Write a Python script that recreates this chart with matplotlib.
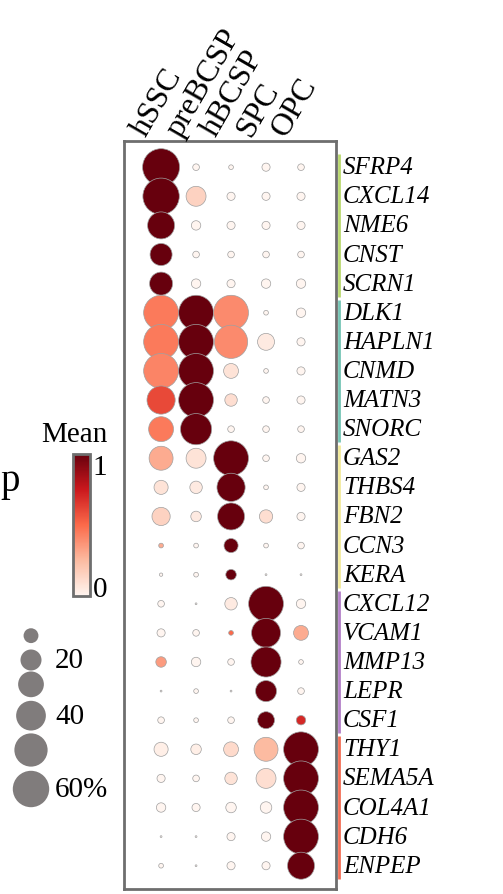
import matplotlib.pyplot as plt
import numpy as np
from matplotlib.colors import LinearSegmentedColormap

cell_types = ["hSSC", "preBCSP", "hBCSP", "SPC", "OPC"]
genes = ["SFRP4", "CXCL14", "NME6", "CNST", "SCRN1",
         "DLK1", "HAPLN1", "CNMD", "MATN3", "SNORC",
         "GAS2", "THBS4", "FBN2", "CCN3", "KERA",
         "CXCL12", "VCAM1", "MMP13", "LEPR", "CSF1",
         "THY1", "SEMA5A", "COL4A1", "CDH6", "ENPEP"]

# percent expressing (rows = genes, cols = cell types)
pct = np.array([
    [62, 2, 1, 3, 2],
    [60, 18, 3, 3, 3],
    [33, 4, 3, 3, 3],
    [22, 2, 2, 2, 2],
    [24, 4, 3, 4, 4],
    [55, 55, 55, 1, 4],
    [55, 55, 50, 13, 3],
    [55, 55, 10, 1, 3],
    [36, 55, 7, 2, 3],
    [28, 44, 2, 2, 2],
    [26, 18, 55, 2, 4],
    [9, 7, 36, 1, 3],
    [15, 5, 33, 8, 3],
    [1, 1, 9, 1, 2],
    [0.5, 1, 5, 0, 0],
    [2, 0, 7, 55, 4],
    [3, 2, 1, 38, 10],
    [5, 4, 2, 41, 1],
    [0, 1, 0, 20, 2],
    [2, 1, 2, 13, 4],
    [9, 5, 10, 26, 55],
    [3, 2, 7, 18, 55],
    [4, 3, 5, 6, 55],
    [0, 0, 3, 4, 55],
    [1, 0, 3, 3, 33],
])

# scaled mean expression
mean = np.array([
    [1, 0, 0, 0, 0],
    [1, 0.15, 0, 0, 0],
    [1, 0, 0, 0, 0],
    [1, 0, 0, 0, 0],
    [1, 0, 0, 0, 0],
    [0.45, 1, 0.4, 0, 0],
    [0.45, 1, 0.4, 0.05, 0],
    [0.42, 1, 0.08, 0, 0],
    [0.6, 1, 0.1, 0, 0],
    [0.45, 1, 0, 0, 0],
    [0.3, 0.08, 1, 0, 0],
    [0.08, 0.05, 1, 0, 0],
    [0.15, 0.05, 1, 0.1, 0],
    [0.3, 0, 1, 0, 0],
    [0, 0, 1, 0, 0],
    [0, 0, 0.05, 1, 0],
    [0, 0, 0.5, 1, 0.3],
    [0.35, 0, 0, 1, 0],
    [0, 0, 0, 1, 0],
    [0, 0, 0, 1, 0.7],
    [0.03, 0.03, 0.12, 0.25, 1],
    [0, 0, 0.08, 0.1, 1],
    [0, 0, 0, 0, 1],
    [0, 0, 0, 0, 1],
    [0, 0, 0, 0, 1],
])

group_sizes = [5, 5, 5, 5, 5]
group_colors = ["#b9d86e", "#74c4b4", "#f2ea9a", "#b27fc8", "#f26e55"]

legend_pct = [10, 20, 30, 40, 50, 60]
legend_labels = ["", "20", "", "40", "", "60%"]

SERIF = "Liberation Serif"
cmap = LinearSegmentedColormap.from_list("m", ["#fff5f0", "#fcbba1", "#fb6a4a", "#cb181d", "#67000d"])


def dot_size(p):
    d_px = 4.7 * np.sqrt(np.clip(p, 0.15, 62))
    return (d_px * 0.72) ** 2


W, H = 503, 895
fig = plt.figure(figsize=(W / 100, H / 100), dpi=100)
ax = fig.add_axes([124 / W, 5 / H, 212 / W, 748 / H])

xs, ys = np.meshgrid(np.arange(len(cell_types)), np.arange(len(genes)))
ax.scatter(xs.ravel(), ys.ravel(), s=dot_size(pct.ravel()), c=mean.ravel(),
           cmap=cmap, vmin=0, vmax=1, edgecolors="#a0a0a0", linewidths=0.5, zorder=3)
ax.set_xlim(-1.06, 5.0)
ax.set_ylim(len(genes) - 0.2, -0.9)
ax.set_xticks([])
ax.set_yticks([])
for sp in ax.spines.values():
    sp.set_color("#6e6e6e")
    sp.set_linewidth(2)

for i, g in enumerate(genes):
    ax.text(5.2, i, g, fontsize=18, fontstyle="italic", family=SERIF,
            va="center", ha="left", clip_on=False)
for j, c in enumerate(cell_types):
    ax.text(j - 0.62, -1.15, c, fontsize=23, family=SERIF, rotation=60,
            rotation_mode="anchor", ha="left", va="center", clip_on=False)

# colored group bars
start = 0
for n, col in zip(group_sizes, group_colors):
    ax.plot([5.1, 5.1], [start - 0.45, start + n - 0.55], color=col, lw=2,
            clip_on=False, solid_capstyle="butt")
    start += n

# colorbar
cax = fig.add_axes([73 / W, 1 - 597 / H, 17 / W, 142 / H])
cb = fig.colorbar(plt.cm.ScalarMappable(cmap=cmap, norm=plt.Normalize(0, 1)), cax=cax)
cb.set_ticks([0.07, 0.93])
cb.set_ticklabels(["0", "1"])
cb.ax.tick_params(length=0, labelsize=21, pad=2)
for t in cb.ax.get_yticklabels():
    t.set_family(SERIF)
cb.outline.set_edgecolor("#6e6e6e")
cb.outline.set_linewidth(2)
fig.text(74 / W, 1 - 435 / H, "Mean", fontsize=21, family=SERIF, ha="center", va="center")
fig.text(0, 1 - 482 / H, "p", fontsize=28, family=SERIF, ha="left", va="center")

# size legend
lax = fig.add_axes([0, 1 - 820 / H, 124 / W, 200 / H])
lax.set_xlim(0, 124)
lax.set_ylim(len(legend_pct) - 0.5, -0.5)
lax.axis("off")
ly = np.array([0, 0.73, 1.46, 2.4, 3.43, 4.6])
lax.scatter(np.full(len(legend_pct), 31), ly, s=dot_size(np.array(legend_pct)),
            color="#807c7c", edgecolors="none", clip_on=False)
for y, lab in zip(ly, legend_labels):
    if lab:
        lax.text(55, y, lab, fontsize=21, family=SERIF, va="center", ha="left")

fig.savefig("out.png", dpi=100)
